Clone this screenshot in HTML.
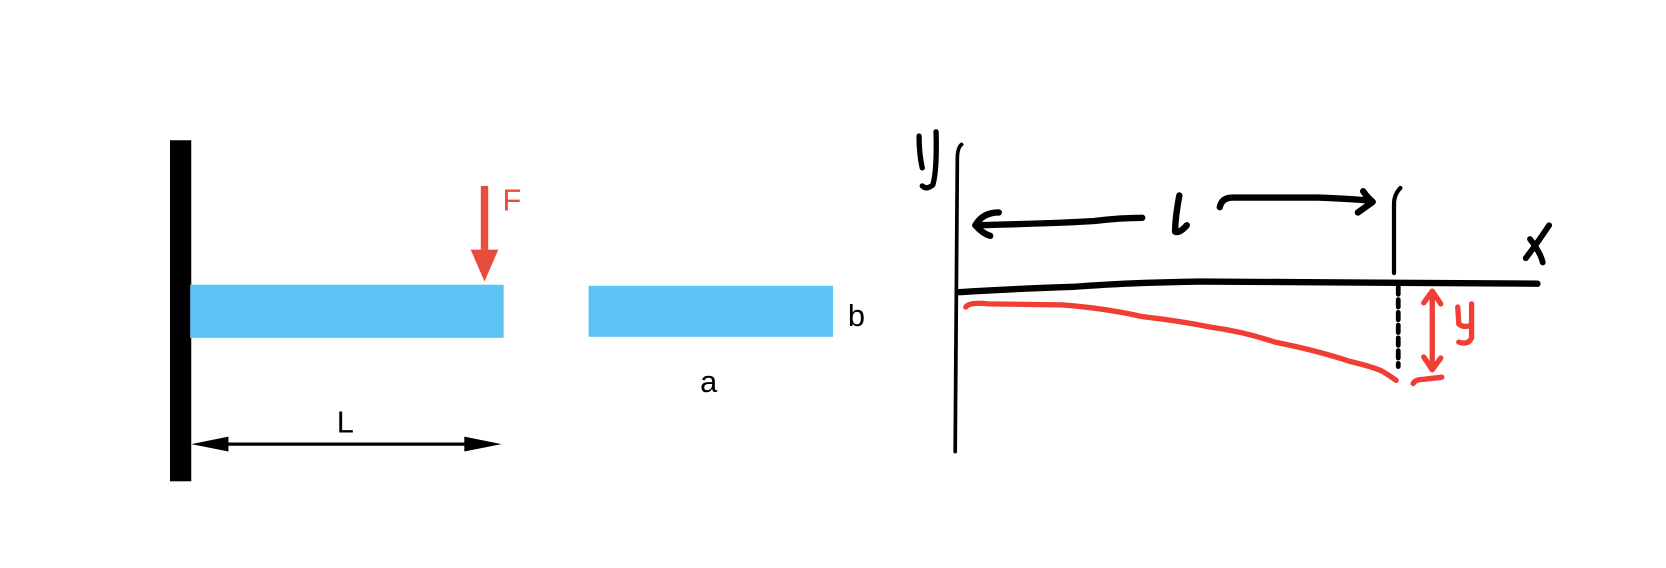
<!DOCTYPE html>
<html><head><meta charset="utf-8"><style>html,body{margin:0;padding:0;background:#fff}svg{display:block}</style></head>
<body>
<svg width="1666" height="568" viewBox="0 0 1568 534.6" preserveAspectRatio="none" xmlns="http://www.w3.org/2000/svg">
<rect width="1568" height="534.6" fill="#fff"/>
<rect x="160" y="132" width="20" height="321" fill="#000"/>
<rect x="179" y="268" width="295" height="50" fill="#5BC4F5"/>
<rect x="554" y="269" width="230" height="48" fill="#5BC4F5"/>
<rect x="452.5" y="175" width="7" height="60" fill="#E84C3D"/>
<polygon points="443,235 469,235 456,265" fill="#E84C3D"/>
<text x="473" y="198" font-family="Liberation Sans, sans-serif" font-size="29" fill="#E84C3D">F</text>
<text x="798" y="307" font-family="Liberation Sans, sans-serif" font-size="29" fill="#000">b</text>
<text x="659" y="369" font-family="Liberation Sans, sans-serif" font-size="29" fill="#000">a</text>
<text x="317" y="407" font-family="Liberation Sans, sans-serif" font-size="29" fill="#000">L</text>
<line x1="200" y1="418" x2="450" y2="418" stroke="#000" stroke-width="3"/>
<polygon points="180,418 215,411 215,425" fill="#000"/>
<polygon points="472,418 437,411 437,425" fill="#000"/>
<g fill="none" stroke-linecap="round" stroke-linejoin="round">
<path d="M905,136 Q901,139 901,150 L899,425" stroke="#000" stroke-width="3.5"/>
<path d="M865,128 Q865,145 868,158 M881,124 Q882,160 878,174 Q872,179 868,175" stroke="#000" stroke-width="5"/>
<path d="M918,212 Q1000,210 1030,208 Q1055,205 1075,205" stroke="#000" stroke-width="6"/>
<path d="M940,200 Q925,200 918,212 Q925,220 932,222" stroke="#000" stroke-width="6"/>
<path d="M1110,184 Q1106,205 1106,218 Q1110,220 1117,212" stroke="#000" stroke-width="6"/>
<path d="M1148,195 Q1150,186 1160,186 L1240,186 Q1270,187 1290,189" stroke="#000" stroke-width="6"/>
<path d="M1283,180 Q1287,186 1292,190 Q1285,195 1278,200" stroke="#000" stroke-width="6"/>
<path d="M1318,177 Q1312,183 1312,192 L1312,257" stroke="#000" stroke-width="4"/>
<path d="M903,275 Q950,272 1010,270 Q1060,266 1130,265 L1447,267" stroke="#000" stroke-width="6"/>
<path d="M1440,225 Q1450,238 1452,247 M1458,212 Q1446,230 1436,243" stroke="#000" stroke-width="5.5"/>
<path d="M1316,270 L1316,345" stroke="#000" stroke-width="4.5" stroke-dasharray="7,5"/>
<path d="M909,289 Q912,284 930,286 L1000,287 Q1040,290 1075,298 Q1110,302 1140,308 Q1170,312 1200,322 Q1240,330 1270,340 Q1295,346 1302,350 Q1310,355 1314,358" stroke="#F03E35" stroke-width="5"/>
<path d="M1348,275 L1348,346 M1340,285 L1348,274 L1356,286 M1340,336 L1348,348 L1356,337" stroke="#F03E35" stroke-width="5"/>
<path d="M1330,361 Q1332,357 1340,357 L1357,355" stroke="#F03E35" stroke-width="5"/>
<path d="M1372,289 L1373,305 Q1378,309 1385,306 M1385,286 L1385,318 Q1382,325 1373,322" stroke="#F03E35" stroke-width="5"/>
</g>
<text x="0" y="0" font-size="1" fill="#fff">y l x y</text>
</svg>
</body></html>
